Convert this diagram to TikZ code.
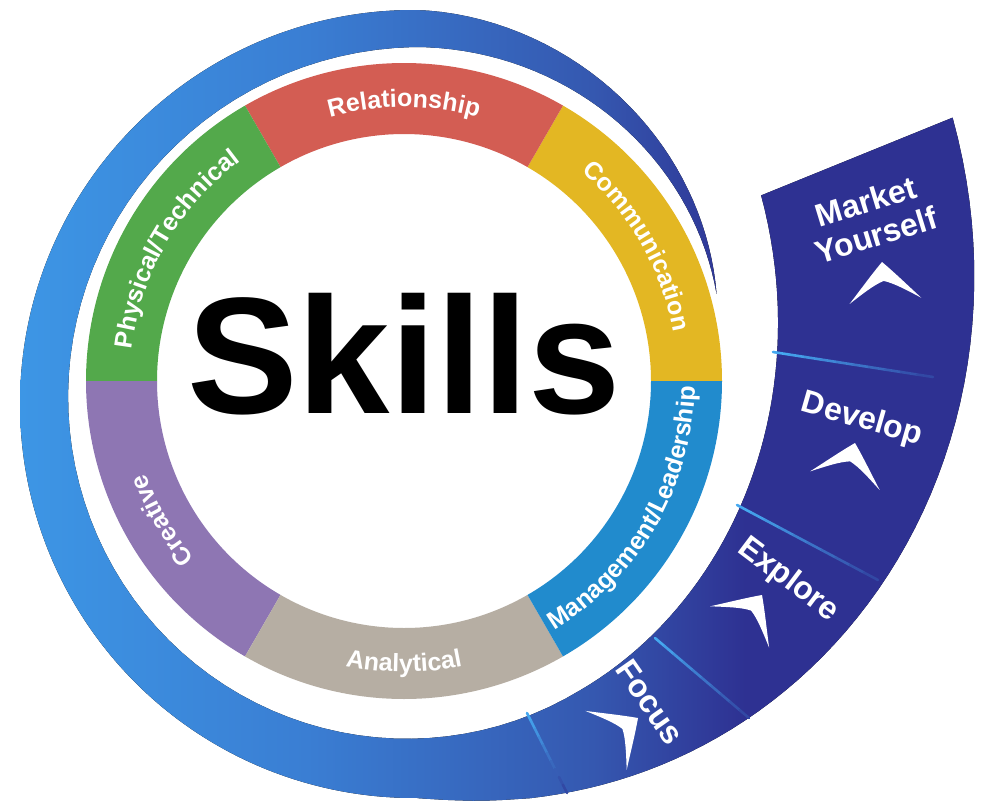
\documentclass[tikz,border=0pt]{standalone}
\usepackage{fontspec}
\setmainfont{Liberation Sans}
\usetikzlibrary{calc,decorations.text}

% ring colours
\definecolor{segRed}{HTML}{D35D53}
\definecolor{segYellow}{HTML}{E3B723}
\definecolor{segBlue}{HTML}{218BCD}
\definecolor{segGrey}{HTML}{B6AEA3}
\definecolor{segPurple}{HTML}{8E76B3}
\definecolor{segGreen}{HTML}{53A94B}
% swoosh colours
\definecolor{swA}{HTML}{3D96E5}
\definecolor{swM}{HTML}{3A7ED3}
\definecolor{swB}{HTML}{3558B0}
\definecolor{swC}{HTML}{2E3192}
\definecolor{sepBlue}{HTML}{45A8F0}

\pgfdeclarehorizontalshading{swooshfill}{100bp}{color(0bp)=(swA); color(25bp)=(swA); color(40bp)=(swM); color(55bp)=(swB); color(63bp)=(swC); color(100bp)=(swC)}

\newcommand\ringfont{\fontsize{25}{30}\selectfont\bfseries}

\tikzset{
  ringlabel/.style={decorate, decoration={text along path, text align=center, text color=white}},
  bandlabel/.style={text=white, font=\fontsize{32}{35}\selectfont\bfseries, align=center, inner sep=0pt},
  sepline/.style={line width=2.6pt, line cap=round},
  chevron/.pic={
    \fill[white] (0,0) .. controls (12,-12) and (24,-26) .. (36,-39)
      .. controls (22,-30) and (10,-22) .. (0,-19)
      .. controls (-10,-22) and (-22,-30) .. (-36,-39)
      .. controls (-24,-26) and (-12,-12) .. (0,0) -- cycle;
  }
}

\begin{document}
\begin{tikzpicture}[x=1pt,y=1pt]
\useasboundingbox[fill=white] (0,0) rectangle (983,-804);

% centre of the skills ring
\coordinate (O) at (404,-381);

% blue spiral band: outer edge (tip -> top -> left -> bottom -> right end),
% then inner edge back to the tip
\begin{scope}[shift={(414,-404)}]
\fill[shading=swooshfill]
  plot[variable=\t, domain=20:90, samples=36]
    ({\t}:{394-72*((90-\t)/70)*sqrt((90-\t)/70)})
  arc[start angle=90, end angle=270.5, radius=394]
  -- plot[variable=\t, domain=270.5:388, samples=60]
    ({\t}:{394+216*((\t-270)/118)^1.3})
  -- (391:405)
  -- plot[variable=\t, domain=391:300, samples=46]
    ({\t}:{331+74*((\t-300)/91)*((\t-300)/91)*sqrt((\t-300)/91)})
  -- plot[variable=\t, domain=300:90, samples=70]
    ({\t}:{357-26*(\t-90)/210})
  -- plot[variable=\t, domain=90:20, samples=36]
    ({\t}:{357-35*((90-\t)/70)*((90-\t)/70)})
  -- cycle;
\end{scope}

% separators between the steps of the band
\coordinate (l1a) at (773,-352); \coordinate (l1b) at (933,-377);
\coordinate (l2a) at (737,-505); \coordinate (l2b) at (878,-580);
\coordinate (l3a) at (655,-638); \coordinate (l3b) at (749,-718);
\coordinate (l4a) at (527,-713); \coordinate (l4b) at (567,-793);
\foreach \s/\e in {l1a/l1b, l2a/l2b, l3a/l3b, l4a/l4b}{
  \foreach \i in {0,...,9}{
    \pgfmathtruncatemacro\pc{100-9*\i}
    \pgfmathsetmacro\ta{\i/10}
    \pgfmathsetmacro\tb{(\i+1)/10}
    \draw[sepline, color=sepBlue!\pc!swC] ($(\s)!\ta!(\e)$) -- ($(\s)!\tb!(\e)$);
  }
}

% ring segments
\foreach \a/\b/\c in {0/60/segYellow, 60/120/segRed, 120/180/segGreen,
                      180/240/segPurple, 240/300/segGrey, 300/360/segBlue}{
  \fill[\c] ($(O)+(\a:318)$) arc[start angle=\a, end angle=\b, radius=318]
    -- ($(O)+(\b:247)$) arc[start angle=\b, end angle=\a, radius=247] -- cycle;
}

% ring labels: upper ones read clockwise, lower ones counter-clockwise
\path[ringlabel, decoration={text={|\ringfont|Relationship}}]
  ($(O)+(120:274)$) arc[start angle=120, end angle=60, radius=274];
\path[ringlabel, decoration={text={|\ringfont|Communication}}]
  ($(O)+(60:274)$) arc[start angle=60, end angle=0, radius=274];
\path[ringlabel, decoration={text={|\ringfont|Physical/Technical}}]
  ($(O)+(180:274)$) arc[start angle=180, end angle=120, radius=274];
\path[ringlabel, decoration={text={|\ringfont|Creative}}]
  ($(O)+(240:274)$) arc[start angle=240, end angle=180, radius=274];
\path[ringlabel, decoration={text={|\ringfont|Analytical}}]
  ($(O)+(240:291)$) arc[start angle=240, end angle=300, radius=291];
\path[ringlabel, decoration={text={|\ringfont|Management/Leadership}}]
  ($(O)+(300:291)$) arc[start angle=300, end angle=360, radius=291];

% title
\node[inner sep=0pt, font=\fontsize{166}{170}\selectfont\bfseries] (skills) at (404,-354) {Skills};

% steps of the band
\node[bandlabel, rotate=17] (market) at (871,-218) {Market\\Yourself};
\node[bandlabel, rotate=-16] (develop) at (862,-420) {Develop};
\node[bandlabel, rotate=-37] (explore) at (788,-580) {Explore};
\node[bandlabel, rotate=-55] (focus) at (650,-702) {Focus};

\pic[rotate=5] at (882,-262) {chevron};
\pic[rotate=-15] at (855,-443) {chevron};
\pic[rotate=-35] at (762,-595) {chevron};
\pic[rotate=-55] at (638,-718) {chevron};
\end{tikzpicture}
\end{document}
